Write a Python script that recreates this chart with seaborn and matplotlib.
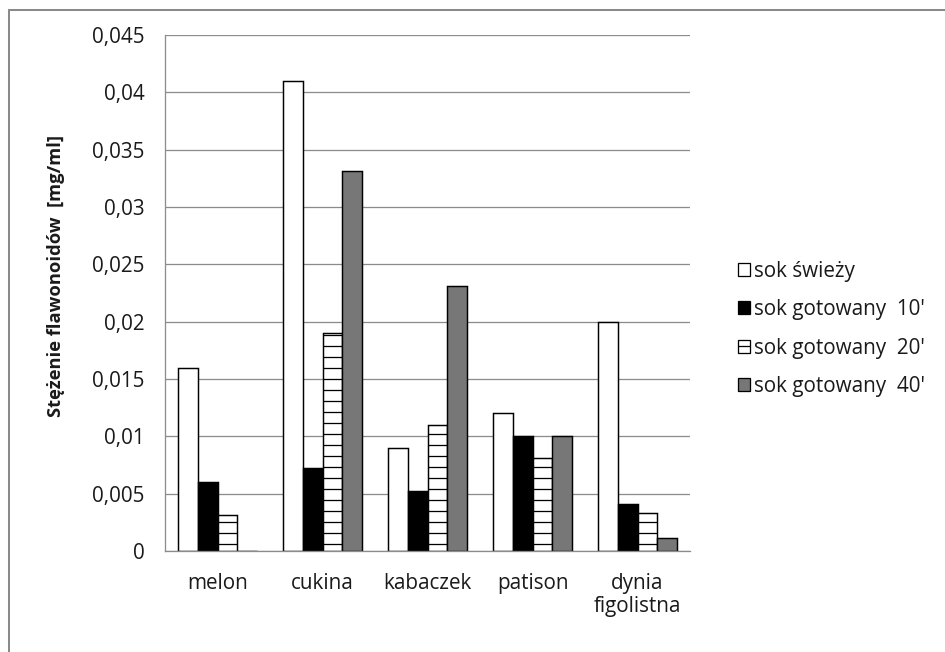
import numpy as np
import pandas as pd
import matplotlib
matplotlib.use("Agg")
import matplotlib.pyplot as plt
import matplotlib.patches as mpatches
from matplotlib.lines import Line2D
from matplotlib.ticker import FuncFormatter, MultipleLocator
import seaborn as sns

# Flavonoid concentration in juices [mg/ml]
kategorie = ["melon", "cukina", "kabaczek", "patison", "dynia\nfigolistna"]
proby = ["sok świeży", "sok gotowany  10'", "sok gotowany  20'", "sok gotowany  40'"]
swiezy = [0.016, 0.041, 0.009, 0.012, 0.020]
gotowany_10 = [0.006, 0.0072, 0.0052, 0.010, 0.0041]
gotowany_20 = [0.0031, 0.019, 0.011, 0.0081, 0.0033]
gotowany_40 = [0.0, 0.0331, 0.0231, 0.010, 0.0011]

serie = [swiezy, gotowany_10, gotowany_20, gotowany_40]
df = pd.DataFrame(
    [(k, p, v) for p, vals in zip(proby, serie) for k, v in zip(kategorie, vals)],
    columns=["kategoria", "proba", "wartosc"],
)

sns.set_theme(style="white")
plt.rcParams["font.family"] = ["Open Sans", "DejaVu Sans"]
plt.rcParams["hatch.linewidth"] = 1.4
plt.rcParams["hatch.color"] = "black"

DPI = 66
W, H = 945, 652
fig = plt.figure(figsize=(W / DPI, H / DPI), dpi=DPI, facecolor="white")
ax = fig.add_axes([165 / W, 1 - 551 / H, (690 - 165) / W, (551 - 35) / H])

kolory = ["white", "black", "white", "#777777"]
sns.barplot(
    data=df, x="kategoria", y="wartosc", hue="proba", hue_order=proby,
    order=kategorie, palette=kolory, edgecolor="black", linewidth=1.6,
    width=0.76, gap=0, ax=ax, legend=False, errorbar=None, saturation=1,
)
for bar in ax.containers[2]:
    bar.set_hatch("-")

ax.set_ylim(0, 0.045)
ax.set_xlim(-0.5, len(kategorie) - 0.5)
ax.yaxis.set_major_locator(MultipleLocator(0.005))
ax.yaxis.set_major_formatter(
    FuncFormatter(lambda v, _: "0" if abs(v) < 1e-12 else f"{v:g}".replace(".", ","))
)
ax.grid(axis="y", color="#8c8c8c", linewidth=1.4)
ax.set_axisbelow(True)

for s in ["top", "right"]:
    ax.spines[s].set_visible(False)
for s in ["left", "bottom"]:
    ax.spines[s].set_color("#8c8c8c")
    ax.spines[s].set_linewidth(1.4)

fs = 22.5
txt = "#1a1a1a"
ax.tick_params(axis="y", direction="out", length=6, width=1.4, color="#8c8c8c",
               labelsize=fs, labelcolor=txt, pad=16)
ax.tick_params(axis="x", length=0, labelsize=fs, labelcolor=txt, pad=24)
for lab in ax.get_xticklabels():
    lab.set_linespacing(1.15)
ax.set_xlabel("")
ax.set_ylabel("Stężenie flawonoidów  [mg/ml]", fontsize=fs - 2.5, fontweight="bold",
              color=txt)
ax.yaxis.set_label_coords(-0.19, 0.533)

# Legend
uchwyty = [
    mpatches.Patch(facecolor=c, edgecolor="black", linewidth=1.4,
                   hatch=("-" if i == 2 else None), label=p)
    for i, (c, p) in enumerate(zip(kolory, proby))
]
fig.legend(handles=uchwyty, loc="upper left", bbox_to_anchor=(719 / W, 1 - 242 / H),
           frameon=False, fontsize=fs, handlelength=0.6, handleheight=0.6,
           handletextpad=0.2, labelspacing=0.85, labelcolor=txt)

# Frame around the chart area
rama = "#8a8a8a"
fig.add_artist(Line2D([9 / W, 9 / W], [0, 1 - 10 / H], color=rama, lw=2.2,
                      transform=fig.transFigure))
fig.add_artist(Line2D([9 / W, 1], [1 - 10 / H, 1 - 10 / H], color=rama, lw=2.2,
                      transform=fig.transFigure))

fig.savefig("out.png", dpi=DPI, facecolor="white")
